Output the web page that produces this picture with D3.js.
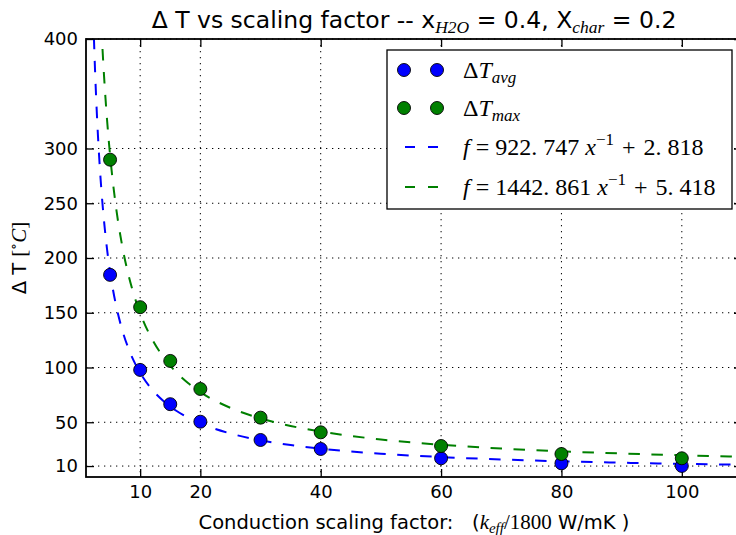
<!DOCTYPE html>
<html><head><meta charset="utf-8">
<script src="https://cdn.jsdelivr.net/npm/d3@7"></script>
<style>body{margin:0;background:#fff} svg{display:block}</style>
</head><body><svg id="c" width="736" height="535"></svg>
<script>
// ---- data ----
const scaling = [5, 10, 15, 20, 30, 40, 60, 80, 100];
const dTavg = [184.6, 97.8, 66.5, 50.5, 33.8, 25.6, 17.1, 12.5, 10.1];
const dTmax = [289.8, 155.1, 106.0, 80.4, 54.2, 40.8, 28.3, 21.0, 17.1];
// fitted curves (values of the fits shown in the legend)
const fitX   = [2, 2.25, 2.5, 2.75, 3, 3.25, 3.5, 3.75, 4, 4.5, 5, 5.5, 6, 7, 8, 9, 10, 12, 14, 16, 18, 20, 25, 30, 35, 40, 50, 60, 70, 80, 90, 100, 110];
const fitAvg = [464.19, 412.93, 371.92, 338.36, 310.40, 286.74, 266.46, 248.88, 233.50, 207.87, 187.37, 170.59, 156.61, 134.64, 118.16, 105.35, 95.09, 79.71, 68.73, 60.49, 54.08, 48.96, 39.73, 33.58, 29.18, 25.89, 21.27, 18.20, 16.00, 14.35, 13.07, 12.05, 11.21];
const fitMax = [726.85, 646.69, 582.56, 530.10, 486.37, 449.38, 417.67, 390.18, 366.13, 326.05, 293.99, 267.76, 245.89, 211.54, 185.78, 165.74, 149.70, 125.66, 108.48, 95.60, 85.58, 77.56, 63.13, 53.51, 46.64, 41.49, 34.28, 29.47, 26.03, 23.45, 21.45, 19.85, 18.54];
const xTicks = [10, 20, 40, 60, 80, 100];
const yTicks = [10, 50, 100, 150, 200, 250, 300, 400];
const xDomain = [1, 110];
const yDomain = [0, 400];
const fitAvgLabel = ["922. 747", "2. 818"];
const fitMaxLabel = ["1442. 861", "5. 418"];

// ---- layout ----
const L = 86, T = 39, R = 742, B = 477;
const BLUE = "#0000ff", GREEN = "#008000";
const SANS = "DejaVu Sans, sans-serif";
const SERIF = "Liberation Serif, DejaVu Serif, serif";

const svg = d3.select("#c");
const x = d3.scaleLinear().domain(xDomain).range([L, R]);
const y = d3.scaleLinear().domain(yDomain).range([B, T]);

svg.append("defs").append("clipPath").attr("id", "clip")
  .append("rect").attr("x", L).attr("y", T).attr("width", R - L).attr("height", B - T);

// grid
const grid = svg.append("g").attr("stroke", "#000").attr("stroke-width", 1)
  .attr("stroke-dasharray", "1.3,4.7");
grid.selectAll(".gx").data(xTicks).join("line")
  .attr("x1", d => x(d)).attr("x2", d => x(d)).attr("y1", T).attr("y2", B);
grid.selectAll(".gy").data(yTicks).join("line")
  .attr("x1", L).attr("x2", R).attr("y1", d => y(d)).attr("y2", d => y(d));

// axes (inward ticks)
const TK = 8;
const fmt = d3.format("d");
const ax = svg.append("g").attr("transform", `translate(0,${B})`)
  .call(d3.axisBottom(x).tickValues(xTicks).tickFormat(fmt).tickSizeInner(-TK).tickSizeOuter(0).tickPadding(8));
const axT = svg.append("g").attr("transform", `translate(0,${T})`)
  .call(d3.axisTop(x).tickValues(xTicks).tickFormat("").tickSizeInner(-TK).tickSizeOuter(0));
const ay = svg.append("g").attr("transform", `translate(${L},0)`)
  .call(d3.axisLeft(y).tickValues(yTicks).tickFormat(fmt).tickSizeInner(-TK).tickSizeOuter(0).tickPadding(8));
const ayR = svg.append("g").attr("transform", `translate(${R},0)`)
  .call(d3.axisRight(y).tickValues(yTicks).tickFormat("").tickSizeInner(-TK).tickSizeOuter(0));
[ax, axT, ay, ayR].forEach(g => {
  g.select(".domain").remove();
  g.selectAll(".tick line").attr("stroke", "#000").attr("stroke-width", 1.3);
  g.selectAll(".tick text").attr("font-family", SANS).attr("font-size", 18).attr("fill", "#000");
});

// fit curves
const line = d3.line().curve(d3.curveMonotoneX);
const curves = svg.append("g").attr("clip-path", "url(#clip)");
curves.append("path")
  .attr("d", line(fitX.map((v, i) => [x(v), y(fitAvg[i])])))
  .attr("fill", "none").attr("stroke", BLUE).attr("stroke-width", 2)
  .attr("stroke-dasharray", "11.5,11.5");
curves.append("path")
  .attr("d", line(fitX.map((v, i) => [x(v), y(fitMax[i])])))
  .attr("fill", "none").attr("stroke", GREEN).attr("stroke-width", 2)
  .attr("stroke-dasharray", "11.5,11.5");

// markers
const RAD = 6.5;
svg.append("g").selectAll("circle").data(scaling).join("circle")
  .attr("cx", d => x(d)).attr("cy", (d, i) => y(dTavg[i])).attr("r", RAD)
  .attr("fill", BLUE).attr("stroke", "#000").attr("stroke-width", 0.9);
svg.append("g").selectAll("circle").data(scaling).join("circle")
  .attr("cx", d => x(d)).attr("cy", (d, i) => y(dTmax[i])).attr("r", RAD)
  .attr("fill", GREEN).attr("stroke", "#000").attr("stroke-width", 0.9);

// spines
svg.append("rect").attr("x", L).attr("y", T).attr("width", R - L).attr("height", B - T)
  .attr("fill", "none").attr("stroke", "#000").attr("stroke-width", 1.8);

// title
const title = svg.append("text").attr("x", (L + R) / 2).attr("y", 28)
  .attr("text-anchor", "middle").attr("font-family", SANS).attr("font-size", 23.5).attr("fill", "#000");
title.append("tspan").text("Δ T vs scaling factor -- x");
title.append("tspan").attr("font-family", SERIF).attr("font-style", "italic").attr("font-size", 17.5).attr("dy", 5).text("H2O");
title.append("tspan").attr("dy", -5).text(" = 0.4, X");
title.append("tspan").attr("font-family", SERIF).attr("font-style", "italic").attr("font-size", 17.5).attr("dy", 5).text("char");
title.append("tspan").attr("dy", -5).text(" = 0.2");

// x label
const xl = svg.append("text").attr("x", (L + R) / 2).attr("y", 529)
  .attr("text-anchor", "middle").attr("font-family", SANS).attr("font-size", 19.5).attr("fill", "#000")
  .attr("xml:space", "preserve");
xl.append("tspan").text("Conduction scaling factor:   (");
xl.append("tspan").attr("font-family", SERIF).attr("font-style", "italic").attr("font-size", 21).text("k");
xl.append("tspan").attr("font-family", SERIF).attr("font-style", "italic").attr("font-size", 15).attr("dy", 4).text("eff");
xl.append("tspan").attr("font-family", SERIF).attr("font-size", 21).attr("dy", -4).text("/1800");
xl.append("tspan").text(" W/mK )");

// y label
const yl = svg.append("text").attr("transform", `translate(26,${(T + B) / 2}) rotate(-90)`)
  .attr("text-anchor", "middle").attr("font-family", SANS).attr("font-size", 19.5).attr("fill", "#000");
yl.append("tspan").text("Δ T ");
yl.append("tspan").attr("font-family", SERIF).attr("font-size", 21).text("[");
yl.append("tspan").attr("font-family", SERIF).attr("font-size", 14).attr("dy", -8).text("∘");
yl.append("tspan").attr("font-family", SERIF).attr("font-style", "italic").attr("font-size", 21).attr("dy", 8).text("C");
yl.append("tspan").attr("font-family", SERIF).attr("font-size", 21).text("]");

// legend
const lg = svg.append("g");
lg.append("rect").attr("x", 387).attr("y", 50).attr("width", 345).attr("height", 159)
  .attr("fill", "#fff").attr("stroke", "#000").attr("stroke-width", 1.3);
const rowY = [70, 108, 147, 187];
const mk = [404, 437];
[[BLUE, 0], [GREEN, 1]].forEach(([c, r]) => {
  mk.forEach(mx => lg.append("circle").attr("cx", mx).attr("cy", rowY[r]).attr("r", RAD)
    .attr("fill", c).attr("stroke", "#000").attr("stroke-width", 0.9));
});
[[BLUE, 2], [GREEN, 3]].forEach(([c, r]) => {
  [[405, 415], [428, 438]].forEach(([a, b]) => lg.append("line")
    .attr("x1", a).attr("x2", b).attr("y1", rowY[r]).attr("y2", rowY[r])
    .attr("stroke", c).attr("stroke-width", 2));
});
const TX = 463, FS = 24;
function deltaLabel(r, sub) {
  const t = lg.append("text").attr("x", TX).attr("y", rowY[r] + 8)
    .attr("font-family", SERIF).attr("font-size", FS).attr("fill", "#000");
  t.append("tspan").text("Δ");
  t.append("tspan").attr("font-style", "italic").text("T");
  t.append("tspan").attr("font-style", "italic").attr("font-size", 17).attr("dy", 5).text(sub);
}
deltaLabel(0, "avg");
deltaLabel(1, "max");
function fitLabel(r, lab) {
  const t = lg.append("text").attr("x", TX).attr("y", rowY[r] + 8)
    .attr("font-family", SERIF).attr("font-size", FS).attr("fill", "#000")
    .attr("xml:space", "preserve");
  t.append("tspan").attr("font-style", "italic").text("f");
  t.append("tspan").text("\u2005=\u2005" + lab[0] + "\u2005");
  t.append("tspan").attr("font-style", "italic").text("x");
  t.append("tspan").attr("font-size", 17).attr("dy", -10).text("−1");
  t.append("tspan").attr("dy", 10).text("\u2004+\u2004" + lab[1]);
}
fitLabel(2, fitAvgLabel);
fitLabel(3, fitMaxLabel);
</script>
</body></html>
